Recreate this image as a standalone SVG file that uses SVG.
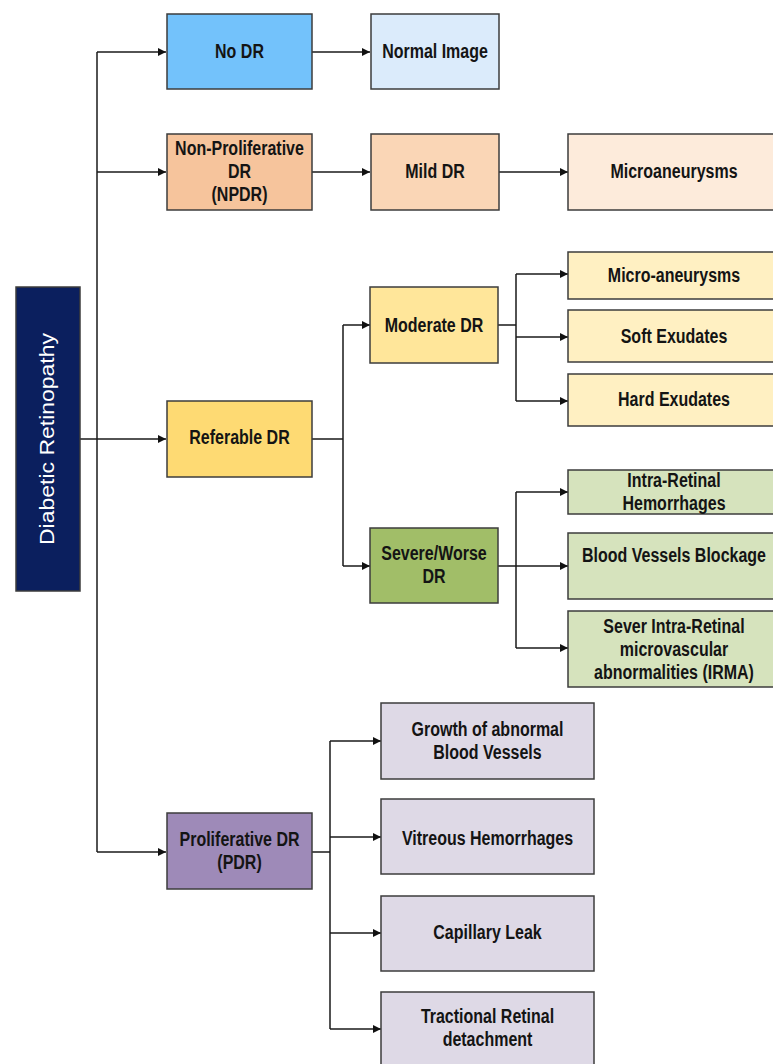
<svg xmlns="http://www.w3.org/2000/svg" width="773" height="1064" viewBox="0 0 773 1064">
<defs>
<marker id="arr" viewBox="0 0 10 10" refX="10" refY="5" markerWidth="9" markerHeight="8" markerUnits="userSpaceOnUse" orient="auto">
<path d="M0,0 L10,5 L0,10 z" fill="#111"/>
</marker>
<style>
.box{stroke:#3c3c3c;stroke-width:1.5}
.t{font-family:"Liberation Sans",Arial,sans-serif;font-weight:bold;font-size:19.5px;fill:#141414;text-anchor:middle}
.c{fill:none;stroke:#1a1a1a;stroke-width:1.5}
.ca{fill:none;stroke:#1a1a1a;stroke-width:1.5;marker-end:url(#arr)}
</style>
</defs>
<rect width="773" height="1064" fill="#fff"/>
<g id="connectors">
<path class="c" d="M97,52 V852"/>
<path class="ca" d="M97,52 H166"/>
<path class="ca" d="M97,172 H166"/>
<path class="ca" d="M80,439 H166"/>
<path class="ca" d="M97,852 H166"/>
<path class="ca" d="M312,52 H370"/>
<path class="ca" d="M312,172 H370"/>
<path class="ca" d="M498,172 H568"/>
<path class="c" d="M312,439 H343 M343,325 V566"/>
<path class="ca" d="M343,325 H370"/>
<path class="ca" d="M343,566 H370"/>
<path class="c" d="M498,325 H516 M516,274 V401"/>
<path class="ca" d="M516,274 H568"/>
<path class="ca" d="M516,337 H568"/>
<path class="ca" d="M516,401 H568"/>
<path class="c" d="M498,566 H516 M516,492 V648"/>
<path class="ca" d="M516,492 H568"/>
<path class="ca" d="M516,566 H568"/>
<path class="ca" d="M516,648 H568"/>
<path class="c" d="M312,852 H330 M330,741 V1029"/>
<path class="ca" d="M330,741 H381"/>
<path class="ca" d="M330,837 H381"/>
<path class="ca" d="M330,933 H381"/>
<path class="ca" d="M330,1029 H381"/>
</g>
<g id="root">
<rect class="box" x="16" y="287" width="64" height="304" fill="#0B1F5E"/>
<text transform="translate(54,439) rotate(-90)" text-anchor="middle" font-family="Liberation Sans,Arial,sans-serif" font-size="21" fill="#fff" textLength="212" lengthAdjust="spacingAndGlyphs">Diabetic Retinopathy</text>
</g>
<g id="no-dr">
<rect class="box" x="167" y="14" width="145" height="75" fill="#73C2FB"/>
<text class="t" transform="translate(239.5,58) scale(.82,1)">No DR</text>
</g>
<g id="normal-image">
<rect class="box" x="371" y="14" width="128" height="75" fill="#DBEBFB"/>
<text class="t" transform="translate(435,58) scale(.82,1)">Normal Image</text>
</g>
<g id="npdr">
<rect class="box" x="167" y="134" width="145" height="76" fill="#F6C49C"/>
<text class="t" transform="translate(239.5,155) scale(.82,1)">Non-Proliferative</text>
<text class="t" transform="translate(239.5,178) scale(.82,1)">DR</text>
<text class="t" transform="translate(239.5,201) scale(.82,1)">(NPDR)</text>
</g>
<g id="mild-dr">
<rect class="box" x="371" y="134" width="128" height="76" fill="#FAD6B6"/>
<text class="t" transform="translate(435,178) scale(.82,1)">Mild DR</text>
</g>
<g id="microaneurysms">
<rect class="box" x="568" y="134" width="212" height="76" fill="#FDEBDB"/>
<text class="t" transform="translate(674,178) scale(.82,1)">Microaneurysms</text>
</g>
<g id="referable-dr">
<rect class="box" x="167" y="401" width="145" height="76" fill="#FEDA73"/>
<text class="t" transform="translate(239.5,444) scale(.82,1)">Referable DR</text>
</g>
<g id="moderate-dr">
<rect class="box" x="370" y="287" width="128" height="76" fill="#FFE69A"/>
<text class="t" transform="translate(434,332) scale(.82,1)">Moderate DR</text>
</g>
<g id="micro-aneurysms">
<rect class="box" x="568" y="252" width="212" height="47" fill="#FFF0C2"/>
<text class="t" transform="translate(674,282) scale(.82,1)">Micro-aneurysms</text>
</g>
<g id="soft-exudates">
<rect class="box" x="568" y="310" width="212" height="52" fill="#FFF0C2"/>
<text class="t" transform="translate(674,343) scale(.82,1)">Soft Exudates</text>
</g>
<g id="hard-exudates">
<rect class="box" x="568" y="374" width="212" height="52" fill="#FFF0C2"/>
<text class="t" transform="translate(674,406) scale(.82,1)">Hard Exudates</text>
</g>
<g id="severe-dr">
<rect class="box" x="370" y="528" width="128" height="75" fill="#A1BE68"/>
<text class="t" transform="translate(434,560) scale(.82,1)">Severe/Worse</text>
<text class="t" transform="translate(434,583) scale(.82,1)">DR</text>
</g>
<g id="intra-retinal">
<rect class="box" x="568" y="470" width="212" height="44" fill="#D6E3BD"/>
<text class="t" transform="translate(674,487) scale(.82,1)">Intra-Retinal</text>
<text class="t" transform="translate(674,510) scale(.82,1)">Hemorrhages</text>
</g>
<g id="blood-vessels-blockage">
<rect class="box" x="568" y="533" width="212" height="66" fill="#D6E3BD"/>
<text class="t" transform="translate(674,562) scale(.82,1)">Blood Vessels Blockage</text>
</g>
<g id="irma">
<rect class="box" x="568" y="611" width="212" height="76" fill="#D6E3BD"/>
<text class="t" transform="translate(674,633) scale(.82,1)">Sever Intra-Retinal</text>
<text class="t" transform="translate(674,656) scale(.82,1)">microvascular</text>
<text class="t" transform="translate(674,679) scale(.82,1)">abnormalities (IRMA)</text>
</g>
<g id="pdr">
<rect class="box" x="167" y="813" width="145" height="76" fill="#9E8AB8"/>
<text class="t" transform="translate(239.5,846) scale(.82,1)">Proliferative DR</text>
<text class="t" transform="translate(239.5,869) scale(.82,1)">(PDR)</text>
</g>
<g id="growth">
<rect class="box" x="381" y="703" width="213" height="76" fill="#DED9E6"/>
<text class="t" transform="translate(487.5,736) scale(.82,1)">Growth of abnormal</text>
<text class="t" transform="translate(487.5,759) scale(.82,1)">Blood Vessels</text>
</g>
<g id="vitreous">
<rect class="box" x="381" y="799" width="213" height="75" fill="#DED9E6"/>
<text class="t" transform="translate(487.5,845) scale(.82,1)">Vitreous Hemorrhages</text>
</g>
<g id="capillary">
<rect class="box" x="381" y="896" width="213" height="75" fill="#DED9E6"/>
<text class="t" transform="translate(487.5,939) scale(.82,1)">Capillary Leak</text>
</g>
<g id="tractional">
<rect class="box" x="381" y="992" width="213" height="80" fill="#DED9E6"/>
<text class="t" transform="translate(487.5,1023) scale(.82,1)">Tractional Retinal</text>
<text class="t" transform="translate(487.5,1046) scale(.82,1)">detachment</text>
</g>
</svg>
